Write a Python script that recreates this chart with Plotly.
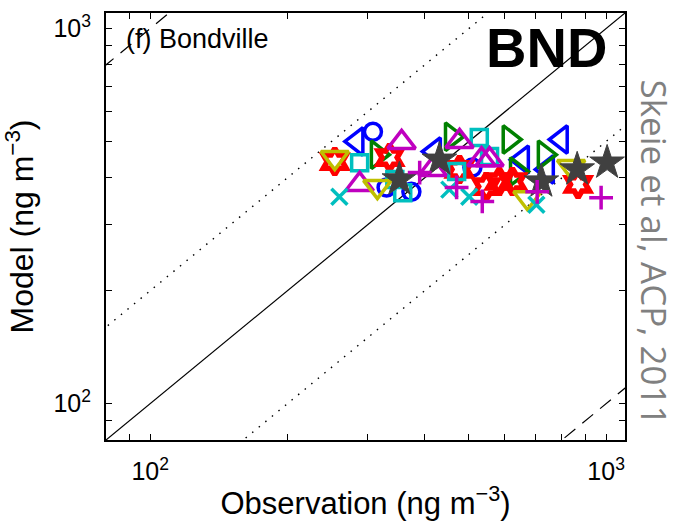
import math
import plotly.graph_objects as go

# Observed vs modelled concentrations at Bondville (ng m^-3), one entry per model
obs_blue_circle = [308, 330, 374, 509]
mod_blue_circle = [531, 377, 367, 426]

obs_blue_left = [284, 420, 655, 797, 743]
mod_blue_left = [500, 470, 447, 506, 421]

obs_green_right = [315, 613, 732, 636, 458]
mod_green_right = [461, 506, 461, 416, 515]

obs_red_hex = [254, 335, 477, 546, 583, 623, 868]
mod_red_hex = [442, 453, 421, 379, 391, 391, 384]

obs_cyan_square = [288, 344, 358, 527, 470, 555]
mod_cyan_square = [439, 396, 365, 512, 416, 456]

obs_magenta_up = [356, 288, 477, 416, 533, 555]
mod_magenta_up = [497, 384, 500, 421, 447, 447]

obs_olive_down = [254, 315, 838, 672]
mod_olive_down = [453, 379, 429, 354]

obs_gray_star = [352, 431, 864, 1005, 721]
mod_gray_star = [396, 447, 421, 439, 391]

obs_cyan_x = [260, 453, 501, 703]
mod_cyan_x = [356, 372, 356, 339]

obs_magenta_plus = [390, 470, 535, 706, 975]
mod_magenta_plus = [413, 377, 346, 367, 354]

# reference ratio lines (model = factor * observation)
ratio_x = [10, 10000]
ratio_solid = [1.0]
ratio_dotted = [2.0, 0.5]
ratio_dashed = [10.0, 0.1]

axis_range = [80, 1100]
major_vals = [100, 1000]
major_text = ["10<sup>2</sup>", "10<sup>3</sup>"]
minor_vals = [80, 90, 200, 300, 400, 500, 600, 700, 800, 900]

BLUE = "rgb(0,0,255)"
GREEN = "rgb(0,128,0)"
RED = "rgb(255,0,0)"
CYAN = "rgb(0,191,191)"
MAGENTA = "rgb(191,0,191)"
OLIVE = "rgb(191,191,0)"
GRAY = "rgb(64,64,64)"
FONT = "Liberation Sans, Arial, sans-serif"

fig = go.Figure()

for f in ratio_solid:
    fig.add_trace(go.Scatter(x=ratio_x, y=[f * v for v in ratio_x], mode="lines",
                             line=dict(color="black", width=1.2), hoverinfo="skip"))
for f in ratio_dotted:
    fig.add_trace(go.Scatter(x=ratio_x, y=[f * v for v in ratio_x], mode="lines",
                             line=dict(color="black", width=1.4, dash="1.5px,7px"), hoverinfo="skip"))
for f in ratio_dashed:
    fig.add_trace(go.Scatter(x=ratio_x, y=[f * v for v in ratio_x], mode="lines",
                             line=dict(color="black", width=1.2, dash="14px,9px"), hoverinfo="skip"))


def add_points(xs, ys, symbol, color, size, lw=3.5, fill=None):
    fig.add_trace(go.Scatter(
        x=xs, y=ys, mode="markers",
        marker=dict(symbol=symbol, size=size, color=fill if fill else color,
                    line=dict(color=color, width=lw)),
    ))


add_points(obs_blue_circle, mod_blue_circle, "circle-open", BLUE, 17)
add_points(obs_blue_left, mod_blue_left, "triangle-left-open", BLUE, 24)
add_points(obs_green_right, mod_green_right, "triangle-right-open", GREEN, 24)
add_points(obs_red_hex, mod_red_hex, "hexagram-open", RED, 20, lw=5.5)
add_points(obs_cyan_square, mod_cyan_square, "square-open", CYAN, 16)
add_points(obs_magenta_up, mod_magenta_up, "triangle-up-open", MAGENTA, 24)
add_points(obs_olive_down, mod_olive_down, "triangle-down-open", OLIVE, 24)
add_points(obs_gray_star, mod_gray_star, "star", GRAY, 26, lw=1, fill=GRAY)
add_points(obs_cyan_x, mod_cyan_x, "x-thin", CYAN, 16)
add_points(obs_magenta_plus, mod_magenta_plus, "cross-thin", MAGENTA, 17)

axis_common = dict(
    type="log", range=[math.log10(axis_range[0]), math.log10(axis_range[1])],
    tickmode="array", tickvals=major_vals, ticktext=major_text,
    ticks="inside", ticklen=6, tickwidth=1, tickcolor="black",
    minor=dict(tickmode="array", tickvals=minor_vals, ticks="inside", ticklen=6,
               tickwidth=1, tickcolor="black", showgrid=False),
    showline=True, linecolor="black", linewidth=2, mirror="ticks",
    showgrid=False, zeroline=False,
    tickfont=dict(family=FONT, size=25, color="black"),
)

fig.update_layout(
    width=680, height=529,
    margin=dict(l=106, r=55, t=13, b=89),
    paper_bgcolor="white", plot_bgcolor="white",
    showlegend=False,
    xaxis=dict(**axis_common, ticklabelstandoff=8,
               title=dict(text="Observation (ng m<sup>−3</sup>)", standoff=8,
                          font=dict(family=FONT, size=31, color="black"))),
    yaxis=dict(**axis_common, ticklabelstandoff=8,
               title=dict(text="Model (ng m<sup>−3</sup>)", standoff=12,
                          font=dict(family=FONT, size=32, color="black"))),
)

fig.add_annotation(text="(f) Bondville", xref="paper", yref="paper", x=0.035, y=0.94,
                   xanchor="left", yanchor="middle", showarrow=False,
                   font=dict(family=FONT, size=27, color="black"))
fig.add_annotation(text="<b>BND</b>", xref="paper", yref="paper", x=0.97, y=0.92,
                   xanchor="right", yanchor="middle", showarrow=False,
                   font=dict(family=FONT, size=56, color="black"))
fig.add_annotation(text="Skeie et al, ACP, 2011", xref="paper", yref="paper", x=1.057, y=0.44,
                   xanchor="center", yanchor="middle", textangle=90, showarrow=False,
                   borderpad=0,
                   font=dict(family="Open Sans", size=35, color="rgb(128,128,128)"))

fig.write_html("out.html")
